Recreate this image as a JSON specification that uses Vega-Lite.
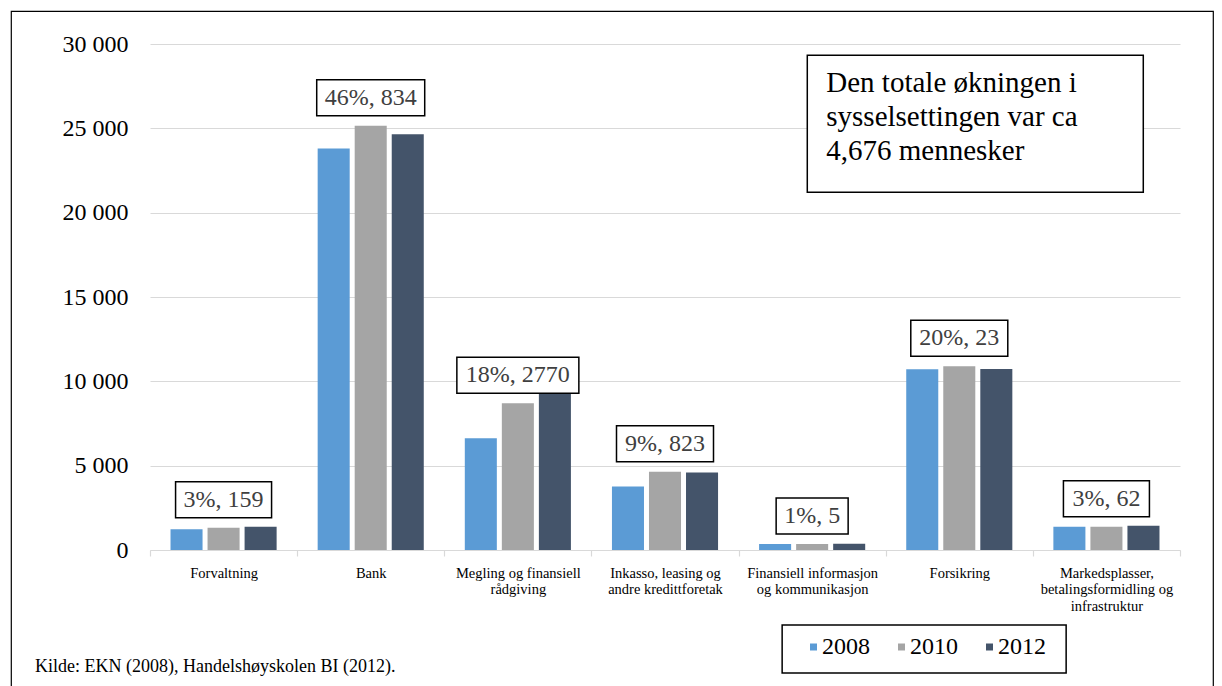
{
  "$schema": "https://vega.github.io/schema/vega-lite/v6.json",
  "width": 1202,
  "height": 680,
  "autosize": {"type": "none"},
  "padding": {"left": 11, "top": 11, "right": 9, "bottom": -5},
  "background": "#ffffff",
  "config": {
    "font": "Liberation Serif",
    "view": {"stroke": "#000000", "strokeWidth": 1.2}
  },
  "title": {
    "text": "Kilde: EKN (2008), Handelshøyskolen BI (2012).",
    "orient": "bottom",
    "anchor": "start",
    "frame": "group",
    "offset": -33,
    "dx": 24,
    "fontSize": 18,
    "fontWeight": "normal",
    "color": "#000000",
    "font": "Liberation Serif"
  },
  "data": {
    "values": [
      {"category": "Forvaltning", "year": "2008", "value": 1225, "label": "3%, 159"},
      {"category": "Forvaltning", "year": "2010", "value": 1322, "label": "3%, 159"},
      {"category": "Forvaltning", "year": "2012", "value": 1384, "label": "3%, 159"},
      {"category": "Bank", "year": "2008", "value": 23810, "label": "46%, 834"},
      {"category": "Bank", "year": "2010", "value": 25150, "label": "46%, 834"},
      {"category": "Bank", "year": "2012", "value": 24644, "label": "46%, 834"},
      {"category": "Megling og finansiell rådgiving", "year": "2008", "value": 6621, "label": "18%, 2770"},
      {"category": "Megling og finansiell rådgiving", "year": "2010", "value": 8696, "label": "18%, 2770"},
      {"category": "Megling og finansiell rådgiving", "year": "2012", "value": 9391, "label": "18%, 2770"},
      {"category": "Inkasso, leasing og andre kredittforetak", "year": "2008", "value": 3770, "label": "9%, 823"},
      {"category": "Inkasso, leasing og andre kredittforetak", "year": "2010", "value": 4645, "label": "9%, 823"},
      {"category": "Inkasso, leasing og andre kredittforetak", "year": "2012", "value": 4593, "label": "9%, 823"},
      {"category": "Finansiell informasjon og kommunikasjon", "year": "2008", "value": 360, "label": "1%, 5"},
      {"category": "Finansiell informasjon og kommunikasjon", "year": "2010", "value": 350, "label": "1%, 5"},
      {"category": "Finansiell informasjon og kommunikasjon", "year": "2012", "value": 365, "label": "1%, 5"},
      {"category": "Forsikring", "year": "2008", "value": 10711, "label": "20%, 23"},
      {"category": "Forsikring", "year": "2010", "value": 10889, "label": "20%, 23"},
      {"category": "Forsikring", "year": "2012", "value": 10734, "label": "20%, 23"},
      {"category": "Markedsplasser, betalingsformidling og infrastruktur", "year": "2008", "value": 1381, "label": "3%, 62"},
      {"category": "Markedsplasser, betalingsformidling og infrastruktur", "year": "2010", "value": 1385, "label": "3%, 62"},
      {"category": "Markedsplasser, betalingsformidling og infrastruktur", "year": "2012", "value": 1443, "label": "3%, 62"}
    ]
  },
  "layer": [
    {
      "mark": {"type": "bar"},
      "encoding": {
        "x": {
          "field": "category",
          "type": "nominal",
          "sort": null,
          "title": null,
          "scale": {
            "domain": ["Forvaltning", "Bank", "Megling og finansiell rådgiving", "Inkasso, leasing og andre kredittforetak", "Finansiell informasjon og kommunikasjon", "Forsikring", "Markedsplasser, betalingsformidling og infrastruktur"],
            "range": [139, 1169],
            "paddingInner": 0,
            "paddingOuter": 0
          },
          "axis": {
            "title": null,
            "labelFont": "Liberation Serif",
            "labelFontSize": 14.5,
            "labelColor": "#000000",
            "labelAngle": 0,
            "labelLimit": 0,
            "labelPadding": 10,
            "labelLineHeight": 16.5,
            "domainColor": "#D9D9D9",
            "domainWidth": 1.2,
            "tickColor": "#D9D9D9",
            "tickWidth": 1.2,
            "tickSize": 6,
            "tickBand": "extent",
            "grid": false,
            "offset": -141,
            "labelExpr": "datum.label == 'Megling og finansiell rådgiving' ? ['Megling og finansiell', 'rådgiving'] : datum.label == 'Inkasso, leasing og andre kredittforetak' ? ['Inkasso, leasing og', 'andre kredittforetak'] : datum.label == 'Finansiell informasjon og kommunikasjon' ? ['Finansiell informasjon', 'og kommunikasjon'] : datum.label == 'Markedsplasser, betalingsformidling og infrastruktur' ? ['Markedsplasser,', 'betalingsformidling og', 'infrastruktur'] : datum.label"
          }
        },
        "xOffset": {
          "field": "year",
          "type": "nominal",
          "sort": ["2008", "2010", "2012"],
          "scale": {"paddingInner": 0.135, "paddingOuter": 0.554}
        },
        "y": {
          "field": "value",
          "type": "quantitative",
          "scale": {"domain": [0, 30000], "range": [539, 33], "nice": false, "zero": true},
          "axis": {
            "title": null,
            "values": [0, 5000, 10000, 15000, 20000, 25000, 30000],
            "labelFont": "Liberation Serif",
            "labelFontSize": 24,
            "labelColor": "#000000",
            "labelPadding": 0,
            "domain": false,
            "ticks": false,
            "tickSize": 0,
            "grid": true,
            "gridColor": "#D9D9D9",
            "gridWidth": 1.2,
            "offset": -117,
            "labelExpr": "replace(format(datum.value, ','), ',', ' ')"
          }
        },
        "color": {
          "field": "year",
          "type": "nominal",
          "scale": {"domain": ["2008", "2010", "2012"], "range": ["#5B9BD5", "#A5A5A5", "#44546A"]},
          "legend": {
            "title": null,
            "orient": "none",
            "legendX": 790.5,
            "legendY": 624,
            "direction": "horizontal",
            "padding": 0,
            "symbolType": "square",
            "symbolSize": 49,
            "symbolStrokeWidth": 0,
            "labelFont": "Liberation Serif",
            "labelFontSize": 24,
            "labelColor": "#000000",
            "labelOffset": -3.5,
            "columnPadding": 19
          }
        }
      }
    },
    {
      "transform": [{"filter": "datum.year == '2010'"}],
      "mark": {"type": "point", "filled": true, "fill": "#ffffff", "stroke": "#000000", "strokeWidth": 1.5, "size": 4, "opacity": 1},
      "encoding": {
        "x": {"field": "category", "type": "nominal"},
        "y": {"field": "value", "type": "quantitative"},
        "shape": {
          "field": "category",
          "type": "nominal",
          "legend": null,
          "scale": {
            "domain": ["Forvaltning", "Bank", "Megling og finansiell rådgiving", "Inkasso, leasing og andre kredittforetak", "Finansiell informasjon og kommunikasjon", "Forsikring", "Markedsplasser, betalingsformidling og infrastruktur"],
            "range": ["M-48,-46H48V-10H-48Z", "M-54,-46H54V-10H-54Z", "M-61,-46H61V-10H-61Z", "M-48.5,-46H48.5V-10H-48.5Z", "M-36,-46H36V-10H-36Z", "M-48.5,-46H48.5V-10H-48.5Z", "M-43,-46H43V-10H-43Z"]
          }
        }
      }
    },
    {
      "transform": [{"filter": "datum.year == '2010'"}],
      "mark": {"type": "text", "dy": -28, "fontSize": 24, "color": "#404040", "align": "center", "baseline": "middle", "font": "Liberation Serif"},
      "encoding": {
        "x": {"field": "category", "type": "nominal"},
        "y": {"field": "value", "type": "quantitative"},
        "text": {"field": "label"}
      }
    },
    {
      "data": {"values": [{"note": "Den totale økningen i sysselsettingen var ca 4,676 mennesker"}]},
      "layer": [
        {
          "mark": {"type": "point", "filled": true, "fill": "#ffffff", "stroke": "#000000", "strokeWidth": 1.5, "size": 4, "opacity": 1, "shape": "M-152,-73H184V64H-152Z"},
          "encoding": {
            "x": {"datum": "Forsikring", "type": "nominal"},
            "y": {"datum": 25000, "type": "quantitative"}
          }
        },
        {
          "mark": {"type": "text", "dx": -133, "dy": -45, "align": "left", "baseline": "middle", "fontSize": 29, "lineHeight": 34, "color": "#000000", "font": "Liberation Serif"},
          "encoding": {
            "x": {"datum": "Forsikring", "type": "nominal"},
            "y": {"datum": 25000, "type": "quantitative"},
            "text": {"value": ["Den totale økningen i", "sysselsettingen var ca", "4,676 mennesker"]}
          }
        },
        {
          "mark": {"type": "point", "filled": false, "stroke": "#000000", "strokeWidth": 1.5, "size": 4, "opacity": 1, "shape": "M-30,-22H254V26H-30Z"},
          "encoding": {
            "x": {"datum": "Finansiell informasjon og kommunikasjon", "type": "nominal"},
            "y": {"datum": -5750, "type": "quantitative"}
          }
        }
      ]
    }
  ]
}
